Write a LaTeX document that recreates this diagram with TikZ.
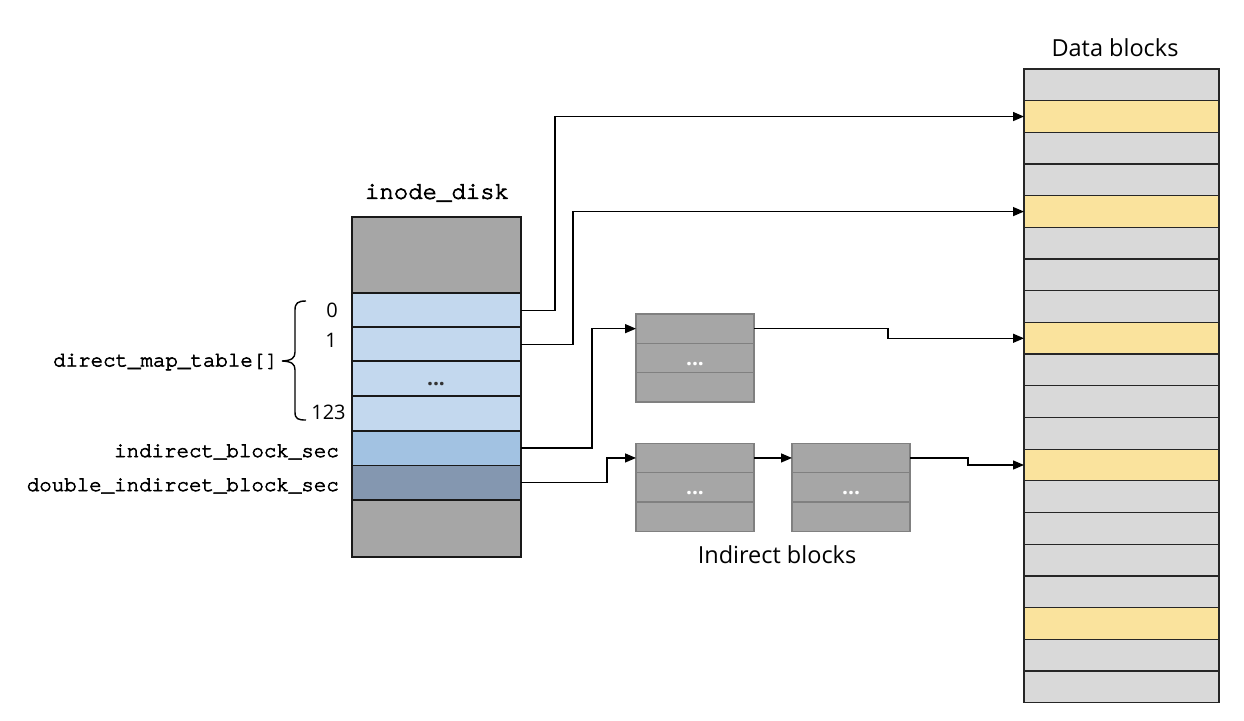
\documentclass[tikz,border=0pt]{standalone}
\usepackage{fontspec}
\setmainfont{Open Sans}
\newfontfamily\monofont[FakeBold=3]{TeX Gyre Cursor}
\usetikzlibrary{arrows.meta}
\definecolor{inodegray}{HTML}{A6A6A6}
\definecolor{lblue}{HTML}{C3D8EE}
\definecolor{mblue}{HTML}{A2C2E2}
\definecolor{slate}{HTML}{8497B0}
\definecolor{datagray}{HTML}{D9D9D9}
\definecolor{datayellow}{HTML}{FAE39D}
\definecolor{blockedge}{HTML}{808080}
\tikzset{
  icell/.style={draw=black!90, line width=1.6pt, inner sep=0pt, outer sep=0pt,
    minimum width=169pt, anchor=north west},
  dcell/.style={draw=black!85, line width=1.3pt, inner sep=0pt, outer sep=0pt,
    minimum width=195pt, minimum height=31.68pt, anchor=north west},
  bcell/.style={draw=blockedge, line width=1.3pt, fill=inodegray, inner sep=0pt,
    outer sep=0pt, minimum width=118pt, minimum height=29.3pt, anchor=north west},
  conn/.style={line width=1.4pt, -{Triangle[length=11pt,width=9pt]}},
  monolbl/.style={font=\monofont\fontsize{20.8}{22}\selectfont, inner sep=0pt},
  numlbl/.style={font=\fontsize{20}{22}\selectfont, inner sep=0pt},
  titlelbl/.style={font=\fontsize{23.5}{25}\selectfont, inner sep=0pt},
  dotlbl/.style={font=\fontsize{21}{21}\selectfont\bfseries, inner sep=0pt}
}
\begin{document}
\begin{tikzpicture}[x=1pt,y=-1pt]
\useasboundingbox (0,0) rectangle (1244,720);

% ---- inode_disk ----
\node[font=\monofont\fontsize{24}{26}\selectfont, inner sep=0pt] (ititle) at (437,193) {inode\_disk};
\node[icell, fill=inodegray, minimum height=76.5pt] (itop) at (352,216.7) {};
\node[icell, fill=lblue, minimum height=34pt] (i0) at (352,293.2) {};
\node[icell, fill=lblue, minimum height=34pt] (i1) at (352,327.2) {};
\node[icell, fill=lblue, minimum height=35pt] (idots) at (352,361.2) {};
\node[icell, fill=lblue, minimum height=34.5pt] (i123) at (352,396.2) {};
\node[icell, fill=mblue, minimum height=34.8pt] (iind) at (352,430.7) {};
\node[icell, fill=slate, minimum height=34.5pt] (idbl) at (352,465.5) {};
\node[icell, fill=inodegray, minimum height=56.7pt] (ibot) at (352,500) {};
\node[dotlbl, text=black!80] (idotstxt) at (436,384) {...};

% labels
\node[numlbl] (n0) at (332,310) {0};
\node[numlbl] (n1) at (331,340) {1};
\node[numlbl] (n123) at (328.5,412) {123};
\draw[line width=1.4pt] (306,301) .. controls (298,301) and (295,303) .. (295,310)
  -- (295,352) .. controls (295,358) and (292,360.5) .. (282,361)
  .. controls (292,361.5) and (295,364) .. (295,370)
  -- (295,412) .. controls (295,419) and (298,420) .. (306,420);
\node[monolbl, anchor=east] (ldmt) at (278,362) {direct\_map\_table[]};
\node[monolbl, anchor=east] (lind) at (339,452) {indirect\_block\_sec};
\node[monolbl, anchor=east] (ldbl) at (339,486) {double\_indircet\_block\_sec};

% ---- data blocks ----
\node[titlelbl] (dtitle) at (1115,48) {Data blocks};
\foreach \i in {0,...,19}{
  \pgfmathsetmacro{\yy}{69+31.68*\i}
  \ifnum\i=1 \def\fc{datayellow}\else
  \ifnum\i=4 \def\fc{datayellow}\else
  \ifnum\i=8 \def\fc{datayellow}\else
  \ifnum\i=12 \def\fc{datayellow}\else
  \ifnum\i=17 \def\fc{datayellow}\else
  \def\fc{datagray}\fi\fi\fi\fi\fi
  \node[dcell, fill=\fc] (d\i) at (1024,\yy) {};
}

% ---- indirect blocks ----
\node[bcell] (A0) at (636,314) {};
\node[bcell] (A1) at (636,343.3) {};
\node[bcell] (A2) at (636,372.6) {};
\node[dotlbl, text=white] (Adots) at (695,364) {...};

\node[bcell] (B0) at (636,443.3) {};
\node[bcell] (B1) at (636,472.6) {};
\node[bcell] (B2) at (636,501.9) {};
\node[dotlbl, text=white] (Bdots) at (695,493) {...};

\node[bcell] (C0) at (792,443.3) {};
\node[bcell] (C1) at (792,472.6) {};
\node[bcell] (C2) at (792,501.9) {};
\node[dotlbl, text=white] (Cdots) at (851,493) {...};

\node[titlelbl] (btitle) at (777,555) {Indirect blocks};

% ---- connectors ----
\draw[conn] (i0.east) -- ++(34,0) |- (d1.west);
\draw[conn] (i1.east) -- ++(52,0) |- (d4.west);
\draw[conn] (iind.east) -- ++(71,0) |- (A0.west);
\draw[conn] (idbl.east) -- ++(86,0) |- (B0.west);
\draw[conn] (A0.east) -- ++(134,0) |- (d8.west);
\draw[conn] (B0.east) -- (C0.west);
\draw[conn] (C0.east) -- ++(58,0) |- (d12.west);
\end{tikzpicture}
\end{document}
